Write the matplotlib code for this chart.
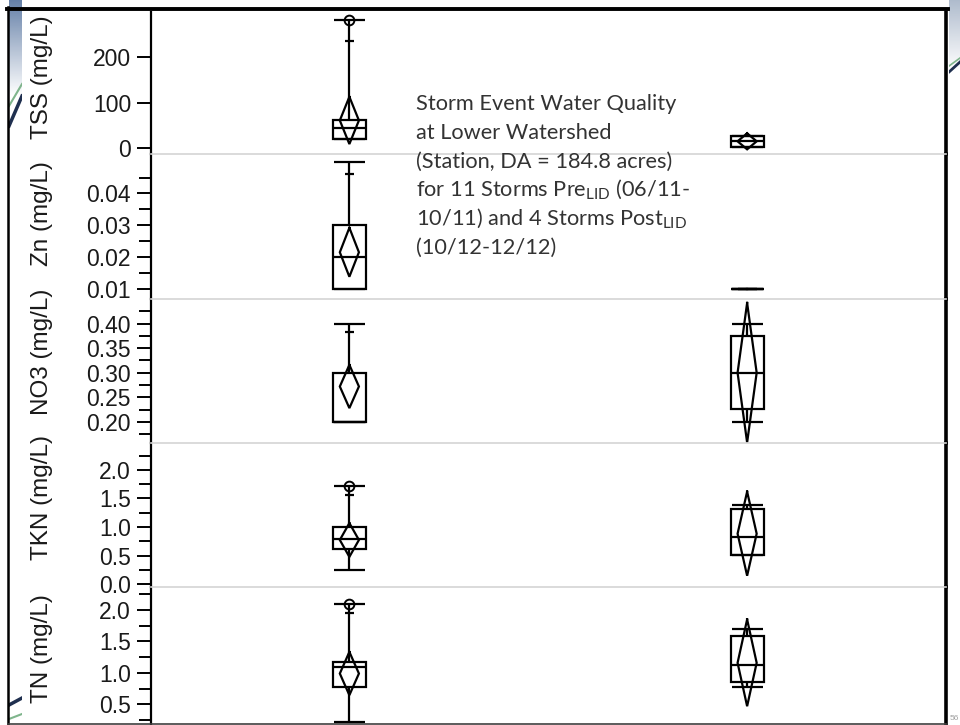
import numpy as np
import matplotlib
matplotlib.use("Agg")
import matplotlib.pyplot as plt
from matplotlib.lines import Line2D
from matplotlib.patches import Rectangle

plt.rcParams['font.family'] = ['Liberation Sans', 'DejaVu Sans']

# ---------------- data ----------------
variables = ["TSS", "Zn", "NO3", "TKN", "TN"]
ylabels = ["TSS (mg/L)", "Zn (mg/L)", "NO3 (mg/L)", "TKN (mg/L)", "TN (mg/L)"]
groups = ["Pre-LID", "Post-LID"]          # plotted at x = 1, 2

# each entry: [pre, post]
q1      = [[20, 4],       [0.010, 0.010], [0.200, 0.227], [0.61, 0.51], [0.78, 0.86]]
median  = [[45, 17],      [0.020, 0.010], [0.200, 0.300], [0.80, 0.83], [1.09, 1.13]]
q3      = [[62, 28],      [0.030, 0.010], [0.300, 0.374], [1.00, 1.32], [1.17, 1.58]]
wmax    = [[282, 28],     [0.050, 0.010], [0.400, 0.400], [1.71, 1.38], [2.09, 1.70]]
wmin    = [[20, 4],       [0.010, 0.010], [0.200, 0.200], [0.25, 0.51], [0.22, 0.78]]
p90     = [[236, None],   [0.046, None],  [0.382, None],  [1.56, None], [1.95, None]]
outlier = [[282, None],   [None, None],   [None, None],   [1.71, None], [2.09, None]]
mean    = [[61.4, 15.4],  [0.0215, 0.010], [0.272, 0.300], [0.775, 0.885], [0.99, 1.16]]
ci_half = [[52.0, 17.6],  [0.0077, 0.0],  [0.044, 0.142], [0.295, 0.735], [0.344, 0.69]]

yticks_major = [[0, 100, 200],
                [0.01, 0.02, 0.03, 0.04],
                [0.20, 0.25, 0.30, 0.35, 0.40],
                [0.0, 0.5, 1.0, 1.5, 2.0],
                [0.5, 1.0, 1.5, 2.0]]
yticks_minor = [[],
                [0.015, 0.025, 0.035, 0.045],
                [0.175, 0.225, 0.275, 0.325, 0.375, 0.425],
                [0.25, 0.75, 1.25, 1.75, 2.25],
                [0.25, 0.75, 1.25, 1.75, 2.25]]
ytick_fmt = ["{:.0f}", "{:.2f}", "{:.2f}", "{:.1f}", "{:.1f}"]
ylims = [(-12.5, 300), (0.0068, 0.0524), (0.157, 0.450), (-0.047, 2.47), (0.076, 2.366)]

title_lines = ["Storm Event Water Quality",
               "at Lower Watershed",
               "(Station, DA = 184.8 acres)",
               r"for 11 Storms Pre$_{\mathregular{LID}}$ (06/11-",
               r"10/11) and 4 Storms Post$_{\mathregular{LID}}$",
               "(10/12-12/12)"]

# ---------------- layout ----------------
W, H = 960, 725
fig = plt.figure(figsize=(W / 100, H / 100), dpi=100)
fig.patch.set_facecolor('white')

left_px, right_px = 150.5, 946
panels_px = [(12, 154), (154, 299), (299, 443), (443, 587), (587, 731)]
label_center_px = [77, 214, 352, 497, 649]
label_right_px = 53

box_hw = 0.0415
cap_hw = 0.039
tick_hw = 0.011
dia_hw = 0.024
LW = 1.6

def fx(px):
    return px / W

def fy(py):
    return 1 - py / H

axes = []
for i, var in enumerate(variables):
    top, bot = panels_px[i]
    ax = fig.add_axes([fx(left_px), fy(bot), fx(right_px - left_px), (bot - top) / H])
    axes.append(ax)
    ax.set_xlim(0.5, 2.5)
    ax.set_ylim(*ylims[i])
    ax.set_xticks([])
    ax.set_yticks(yticks_major[i])
    ax.set_yticklabels([ytick_fmt[i].format(v) for v in yticks_major[i]])
    ax.set_yticks(yticks_minor[i], minor=True)
    ax.tick_params(axis='y', which='major', length=10, width=1.4, labelsize=16.5,
                   pad=4, labelcolor='#1a1a1a')
    ax.tick_params(axis='y', which='minor', length=9, width=1.4)
    ax.spines['bottom'].set_visible(False)
    ax.spines['left'].set_linewidth(1.6)
    ax.spines['right'].set_linewidth(2.6)
    ax.spines['top'].set_color('#d4d4d4')
    ax.spines['top'].set_linewidth(1.2)
    if i == 0:
        ax.spines['top'].set_visible(False)
    ax.set_ylabel(ylabels[i], fontsize=17.5, color='#1a1a1a')
    ax.yaxis.set_label_coords((label_right_px - left_px) / (right_px - left_px),
                              (bot - label_center_px[i]) / (bot - top))

    for g in range(2):
        x = g + 1
        k = dict(color='black', lw=LW, solid_capstyle='butt')
        # whiskers
        ax.plot([x, x], [q3[i][g], wmax[i][g]], **k)
        ax.plot([x, x], [wmin[i][g], q1[i][g]], **k)
        # caps
        ax.plot([x - cap_hw, x + cap_hw], [wmax[i][g]] * 2, **k)
        ax.plot([x - cap_hw, x + cap_hw], [wmin[i][g]] * 2, **k)
        # box
        ax.add_patch(Rectangle((x - box_hw, q1[i][g]), 2 * box_hw, q3[i][g] - q1[i][g],
                               fill=False, edgecolor='black', lw=LW))
        ax.plot([x - box_hw, x + box_hw], [median[i][g]] * 2, **k)
        # 90% quantile mark
        if p90[i][g] is not None:
            ax.plot([x - tick_hw, x + tick_hw], [p90[i][g]] * 2, **k)
        # outlier point
        if outlier[i][g] is not None:
            ax.plot([x], [outlier[i][g]], marker='o', ms=7, mfc='none', mec='black', mew=1.4)
        # mean diamond
        m, h = mean[i][g], ci_half[i][g]
        ax.plot([x, x + dia_hw, x, x - dia_hw, x], [m + h, m, m - h, m, m + h],
                color='black', lw=LW, solid_joinstyle='miter')

# ---------------- annotation text ----------------
baselines_px = [110, 139, 168, 196.5, 225, 254]
for line, by in zip(title_lines, baselines_px):
    fig.text(fx(416), fy(by), line, fontsize=15.7, family=['Lato', 'DejaVu Sans'],
             color='#333333', va='baseline', ha='left')

# ---------------- slide decorations ----------------
# left strip gradient
deco_l = fig.add_axes([fx(9), 0, fx(13), 1], zorder=-1)
deco_l.set_xlim(0, 1)
deco_l.set_ylim(H, 0)
deco_l.axis('off')
yy = np.arange(H)
alpha = np.clip(1 - yy / 95.0, 0, 1)[:, None] * np.ones((1, 4))
img = np.zeros((H, 4, 4))
img[..., 0] = 0.33
img[..., 1] = 0.45
img[..., 2] = 0.62
img[..., 3] = alpha * 0.9
deco_l.imshow(img, extent=(0, 1, H, 0), aspect='auto')
deco_l.plot([1, 0], [84, 106], color='#7fb58c', lw=1.5)
deco_l.plot([1, 0], [96, 126], color='#1f2f4f', lw=2.5)
deco_l.plot([0, 1], [705, 698], color='#1f2f4f', lw=2.5)
deco_l.plot([0, 1], [719, 714], color='#7fb58c', lw=1.5)

# right strip gradient
deco_r = fig.add_axes([fx(949), 0, fx(11), 1], zorder=-1)
deco_r.set_xlim(0, 1)
deco_r.set_ylim(H, 0)
deco_r.axis('off')
img2 = np.zeros((H, 4, 4))
img2[..., 0] = 0.55
img2[..., 1] = 0.62
img2[..., 2] = 0.72
img2[..., 3] = np.clip(1 - yy / 70.0, 0, 1)[:, None] * 0.7
deco_r.imshow(img2, extent=(0, 1, H, 0), aspect='auto')
deco_r.plot([0, 1], [72, 62], color='#1f2f4f', lw=2.0)
deco_r.plot([0, 1], [66, 58], color='#7fb58c', lw=1.2)

# slide borders
fig.add_artist(Line2D([fx(7), fx(948)], [fy(8.5)] * 2, color='black', lw=2.8))
fig.add_artist(Line2D([fx(8)] * 2, [fy(7), fy(725)], color='black', lw=1.8))
fig.add_artist(Line2D([fx(8), fx(946)], [fy(724)] * 2, color='#404040', lw=1.2))
fig.text(fx(949.5), fy(720), "56", fontsize=6, color='#a0a0a0', va='baseline')

fig.savefig("out.png", dpi=100, facecolor='white')
